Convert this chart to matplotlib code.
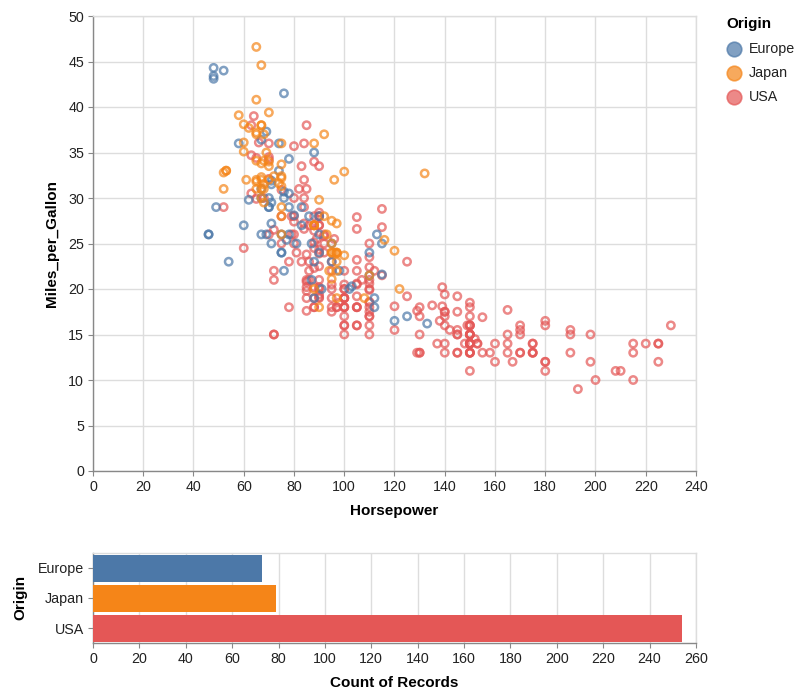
import matplotlib
matplotlib.use("Agg")
import matplotlib.pyplot as plt
from matplotlib.lines import Line2D

plt.rcParams['font.family'] = ['Liberation Sans', 'DejaVu Sans']

# ---------------- data ----------------
origins = ["Europe", "Japan", "USA"]
colors = {"Europe": "#4c78a8", "Japan": "#f58518", "USA": "#e45756"}

europe_hp = [46, 87, 90, 95, 113, 90, 70, 76, 60, 54, 112, 76, 87, 69,
             46, 90, 49, 75, 91, 112, 110, 83, 67, 78, 75, 75, 67,
             71, 70, 95, 88, 98, 115, 86, 81, 83, 70, 71, 102, 88, 120,
             58, 78, 78, 110, 48, 103, 125, 115, 133, 71, 71, 77, 71, 69,
             76, 78, 48, 48, 67, 67, 62, 88, 74, 80, 76, 74, 52]
europe_mpg = [26, 25, 24, 25, 26, 28, 30, 30, 27, 23, 18, 22, 21, 26,
              26, 26, 29, 24, 20, 19, 24, 29, 26, 26, 24, 26, 31,
              25, 29, 23, 23, 22, 25, 28, 25, 27, 29, 29.5, 20, 19, 16.5,
              36, 29, 30.5, 21.5, 43.1, 20.3, 17, 21.6, 16.2, 31.5, 31.9, 25.4, 27.2, 37.3,
              41.5, 34.3, 44.3, 43.4, 36.4, 30, 29.8, 35, 33, 28.1, 30.7, 36, 44]

japan_hp = [95, 88, 88, 95, 65, 69, 95, 97, 92, 97, 88, 88, 94, 90, 122,
            67, 65, 52, 61, 97, 93, 75, 96, 97, 53, 53, 70, 75, 108,
            68, 70, 75, 67, 97, 110, 52, 70, 60, 95, 97, 95, 97, 68,
            65, 65, 60, 65, 90, 75, 92, 75, 65, 65, 67, 67, 132, 100, 72,
            58, 60, 67, 65, 62, 68, 75, 75, 100, 74, 116, 120,
            68, 68, 88, 75, 70, 67, 67, 67, 96]
japan_mpg = [24, 27, 27, 25, 31, 35, 24, 19, 28, 23, 27, 20, 22, 18, 20,
             31, 32, 31, 32, 24, 26, 29, 24, 24, 33, 33, 32, 28, 19,
             31.5, 33.5, 26, 30, 22, 21.5, 32.8, 39.4, 36.1, 27.5, 27.2, 21.1, 23.9, 29.5,
             34.1, 31.8, 38.1, 37.2, 29.8, 31.3, 37, 32.2, 46.6, 40.8, 44.6, 33.8, 32.7, 23.7, 32.4,
             39.1, 35.1, 32.3, 37, 37.7, 34.1, 33.7, 32.4, 32.9, 31.6, 25.4, 24.2,
             37, 31, 36, 36, 34, 38, 32, 38, 32]

usa_hp = [130, 165, 150, 150, 140, 198, 220, 215, 225, 190, 170, 160, 150, 225, 95, 97, 85, 90, 215, 200, 210, 193,
          90, 100, 105, 100, 88, 100, 165, 175, 153, 150, 180, 170, 175, 110, 72, 100, 88, 86, 70,
          80, 90, 86, 165, 175, 150, 153, 150, 208, 155, 160, 190, 150, 130, 140, 150, 86, 80,
          175, 150, 145, 137, 150, 198, 150, 158, 150, 215, 225, 175, 105, 100, 100, 88, 95, 150, 167, 170, 180, 100,
          72, 85, 107, 145, 230, 150, 180,
          95, 100, 100, 80, 75, 100, 110, 105, 140, 150, 150, 140, 150, 75,
          95, 105, 72, 72, 170, 145, 150, 148, 110, 105, 110, 95, 110, 110, 129, 83, 100, 78, 97, 90,
          92, 79, 140, 150, 120, 152, 100, 105, 81, 90, 52, 60, 100, 78, 110, 95, 72, 150, 180, 145, 130, 150,
          80, 96, 145, 110, 145, 130, 110, 105, 100, 98, 180, 170, 190, 149, 88, 89, 63, 83,
          66, 110, 140, 139, 105, 95, 85, 88, 100, 90, 105, 85, 110, 120, 145, 165, 139, 140, 68, 75, 105, 85,
          115, 85, 88, 90, 110, 130, 129, 138, 135, 155, 142, 125, 150, 80, 80, 125, 90, 70, 70, 90, 115, 115, 90,
          70, 90, 88, 90, 90, 105,
          84, 84, 92, 110, 84, 64, 63, 65, 65, 110, 105, 88, 85,
          88, 88, 88, 85, 84, 90, 92, 63, 70, 110, 85, 92, 112, 84, 90, 86, 84, 79, 82]
usa_mpg = [18, 15, 18, 16, 17, 15, 14, 14, 14, 15, 15, 14, 15, 14, 22, 18, 21, 21, 10, 10, 11, 9,
           28, 19, 16, 17, 19, 18, 14, 14, 14, 14, 12, 13, 13, 18, 22, 19, 18, 23, 26,
           25, 20, 21, 13, 14, 15, 14, 17, 11, 13, 12, 13, 15, 13, 13, 14, 22, 28,
           13, 14, 13, 14, 15, 12, 13, 13, 14, 13, 12, 13, 18, 16, 18, 18, 23, 11, 12, 13, 12, 18,
           21, 19, 21, 15, 16, 15, 11,
           20, 19, 15, 26, 25, 16, 16, 18, 16, 13, 14, 14, 14, 28,
           19, 18, 15, 15, 16, 15, 16, 14, 17, 16, 15, 18, 21, 20, 13, 23, 20, 23, 18, 19,
           25, 26, 17.5, 16, 15.5, 14.5, 22, 22, 24, 22.5, 29, 24.5, 20, 18, 18.5, 17.5, 26.5, 13, 16.5, 13, 13, 13,
           30, 25.5, 17.5, 17, 15.5, 15, 17.5, 20.5, 19, 18.5, 16, 15.5, 15.5, 16, 24.5, 25.5, 30.5, 33.5,
           36.1, 19.9, 19.4, 20.2, 19.2, 20.5, 20.2, 25.1, 20.5, 19.4, 20.6, 20.8, 18.6, 18.1, 19.2, 17.7, 18.1, 17.5, 30, 30.9, 23.2, 23.8,
           21.5, 19.8, 22.3, 20.2, 20.6, 17, 17.6, 16.5, 18.2, 16.9, 15.5, 19.2, 18.5, 35.7, 27.4, 23, 23.9, 34.2, 34.5, 28.4, 28.8, 26.8, 33.5,
           32.1, 28, 26.4, 24.3, 19.1, 27.9,
           27.2, 26.6, 25.8, 23.5, 30, 39, 34.7, 34.4, 29.9, 22.4, 26.6, 20.2, 17.6,
           28, 27, 34, 31, 29, 27, 24, 38, 36, 25, 38, 26, 22, 36, 27, 27, 32, 28, 31]

record_counts = [73, 79, 254]

# ---------------- figure ----------------
W, H = 803, 691
fig = plt.figure(figsize=(W / 100, H / 100), dpi=100)

def px_axes(left, top, right, bottom):
    return fig.add_axes([left / W, 1 - bottom / H, (right - left) / W, (bottom - top) / H])

LABEL_C = "#222222"
DOMAIN_C = "#888888"
GRID_C = "#dddddd"

def style_axes(ax):
    for s in ["top", "right"]:
        ax.spines[s].set_color(GRID_C)
        ax.spines[s].set_linewidth(1.0)
    for s in ["left", "bottom"]:
        ax.spines[s].set_color(DOMAIN_C)
        ax.spines[s].set_linewidth(1.0)
    ax.tick_params(axis="both", colors=DOMAIN_C, labelcolor=LABEL_C, labelsize=10.3,
                   length=3.8, width=0.8, pad=2.5)
    ax.set_axisbelow(True)

# ---- scatter ----
ax = px_axes(93, 16, 696, 471)
series = {"Europe": (europe_hp, europe_mpg), "Japan": (japan_hp, japan_mpg), "USA": (usa_hp, usa_mpg)}
for name in ["USA", "Europe", "Japan"]:
    hp, mpg = series[name]
    ax.scatter(hp, mpg, s=28, facecolors="none", edgecolors=colors[name],
               linewidths=1.8, alpha=0.7, zorder=3)
ax.set_xlim(0, 240)
ax.set_ylim(0, 50)
ax.set_xticks(range(0, 241, 20))
ax.set_yticks(range(0, 51, 5))
ax.grid(True, color=GRID_C, linewidth=1.0)
style_axes(ax)

fig.text(394 / W, 1 - 511 / H, "Horsepower", ha="center", va="center",
         fontsize=11, fontweight="bold", color="black")
fig.text(52 / W, 1 - 243.5 / H, "Miles_per_Gallon", ha="center", va="center",
         rotation=90, fontsize=11, fontweight="bold", color="black")

# ---- legend ----
fig.text(726 / W, 1 - 24 / H, "Origin", ha="left", va="center",
         fontsize=11, fontweight="bold", color="black")
for i, name in enumerate(origins):
    yc = 49 + 24 * i
    fig.add_artist(Line2D([734 / W], [1 - yc / H], marker="o", markersize=10.5,
                          markerfacecolor=colors[name], markeredgecolor=colors[name],
                          markeredgewidth=1.2, alpha=0.7, linestyle="none",
                          transform=fig.transFigure))
    fig.text(749 / W, 1 - yc / H, name, ha="left", va="center",
             fontsize=10.3, color=LABEL_C)

# ---- bar chart ----
bx = px_axes(93, 553, 696, 643)
ypos = list(range(len(origins)))
bx.barh(ypos, record_counts, height=0.9, color=[colors[o] for o in origins], zorder=3)
bx.set_ylim(2.5, -0.5)
bx.set_xlim(0, 260)
bx.set_xticks(range(0, 261, 20))
bx.set_yticks(ypos)
bx.set_yticklabels(origins)
bx.grid(True, axis="x", color=GRID_C, linewidth=1.0)
style_axes(bx)

fig.text(394 / W, 1 - 683 / H, "Count of Records", ha="center", va="center",
         fontsize=11, fontweight="bold", color="black")
fig.text(20 / W, 1 - 597 / H, "Origin", ha="center", va="center",
         rotation=90, fontsize=11, fontweight="bold", color="black")

fig.savefig("out.png", dpi=100, facecolor="white")
